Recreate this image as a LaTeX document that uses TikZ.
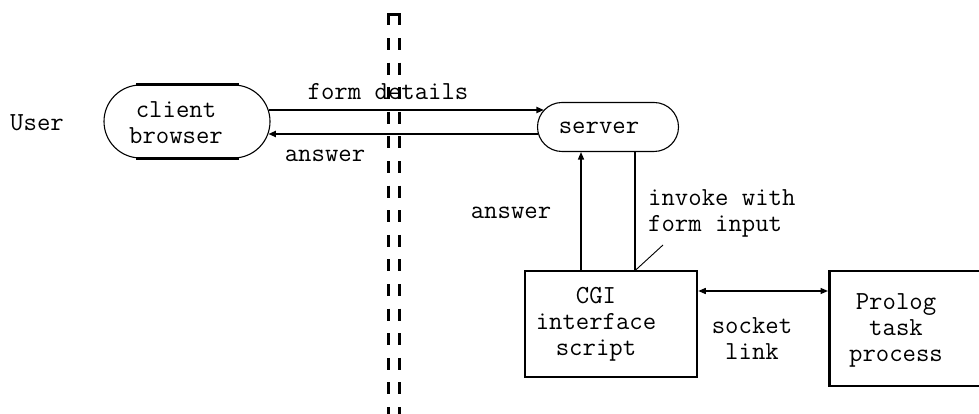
\documentclass[tikz,border=0pt]{standalone}
\usepackage{tikz}
\usetikzlibrary{positioning, arrows.meta, shapes.misc}

\begin{document}
\begin{tikzpicture}[
    x=1pt, y=1pt,
    >={Triangle[length=7.5pt, width=6pt]},
    font=\fontsize{26}{26}\selectfont\ttfamily,
    pill/.style={rounded rectangle, draw, line width=1.1pt, inner sep=0pt},
    box/.style={rectangle, draw, line width=2.5pt, inner sep=0pt},
    txt/.style={inner sep=0pt, align=center},
    thin_link/.style={line width=1.4pt},
    thick_link/.style={line width=2.3pt},
    barrier/.style={dash pattern=on 12pt off 12.6pt}
]
    \clip (0,0) rectangle (979,414);

    % Define the user side
    \node[txt] (user) at (37,291) {User};
    \node[pill, minimum width=166pt, minimum height=73pt] (client) at (187,292.5) {};
    \node[txt] (client_txt) at (176,291.5) {client\\browser};
    \draw[line width=2.5pt] ([xshift=-51pt]client.north) -- ([xshift=52pt]client.north);
    \draw[line width=2.5pt] ([xshift=-51pt]client.south) -- ([xshift=52pt]client.south);

    % Define the server side
    \node[pill, minimum width=141pt, minimum height=49pt] (server) at (608,287) {};
    \node[txt] (server_txt) at (599,285.7) {server};

    \node[box, minimum width=172pt, minimum height=106pt] (cgi) at (611,90) {};
    \node[txt] (cgi_txt) at (596,90) {CGI\\interface\\script};

    \node[box, minimum width=180pt, minimum height=115pt, anchor=west] (prolog) at (828,85.5) {};
    \node[txt] (prolog_txt) at (896,83.5) {Prolog\\task\\process};

    % The dividing wall between the two sides
    \draw[barrier, line width=3pt] (388.3,400.5) -- (388.3,-5);
    \draw[barrier, line width=2.3pt] (399.5,400.5) -- (399.5,-5);
    \draw[line width=2.5pt] (387,399.5) -- (400.7,399.5);

    % Requests and answers across the wall
    \draw[thick_link, ->] ([xshift=-2pt, yshift=11.5pt]client.east) -- ([xshift=7pt, yshift=17pt]server.west);
    \draw[thick_link, ->] ([xshift=1pt, yshift=-7pt]server.west) -- ([xshift=-2.2pt, yshift=-12.5pt]client.east);
    \node[txt] (form_lbl) at (388,322.5) {form details};
    \node[txt] (answer_top) at (325,258) {answer};

    % Server to script and back
    \draw[thin_link, ->] ([xshift=-30pt]cgi.north) -- ([xshift=-27pt]server.south);
    \draw[thick_link] ([xshift=24pt]cgi.north) -- ([xshift=27pt]server.south);
    \node[txt] (answer_side) at (511,201.5) {answer};
    \node[txt, align=left, anchor=west] (invoke_lbl) at (648,201) {invoke with\\form input};
    \coordinate (tick) at (663,169);
    \draw[line width=0.9pt] ([xshift=25pt]cgi.north) -- (tick);

    % Socket between script and Prolog
    \draw[thin_link, <->] ([yshift=33pt]cgi.east) -- ([yshift=37.5pt]prolog.west);
    \node[txt] (socket_lbl) at (752,75.7) {socket\\link};

\end{tikzpicture}
\end{document}
